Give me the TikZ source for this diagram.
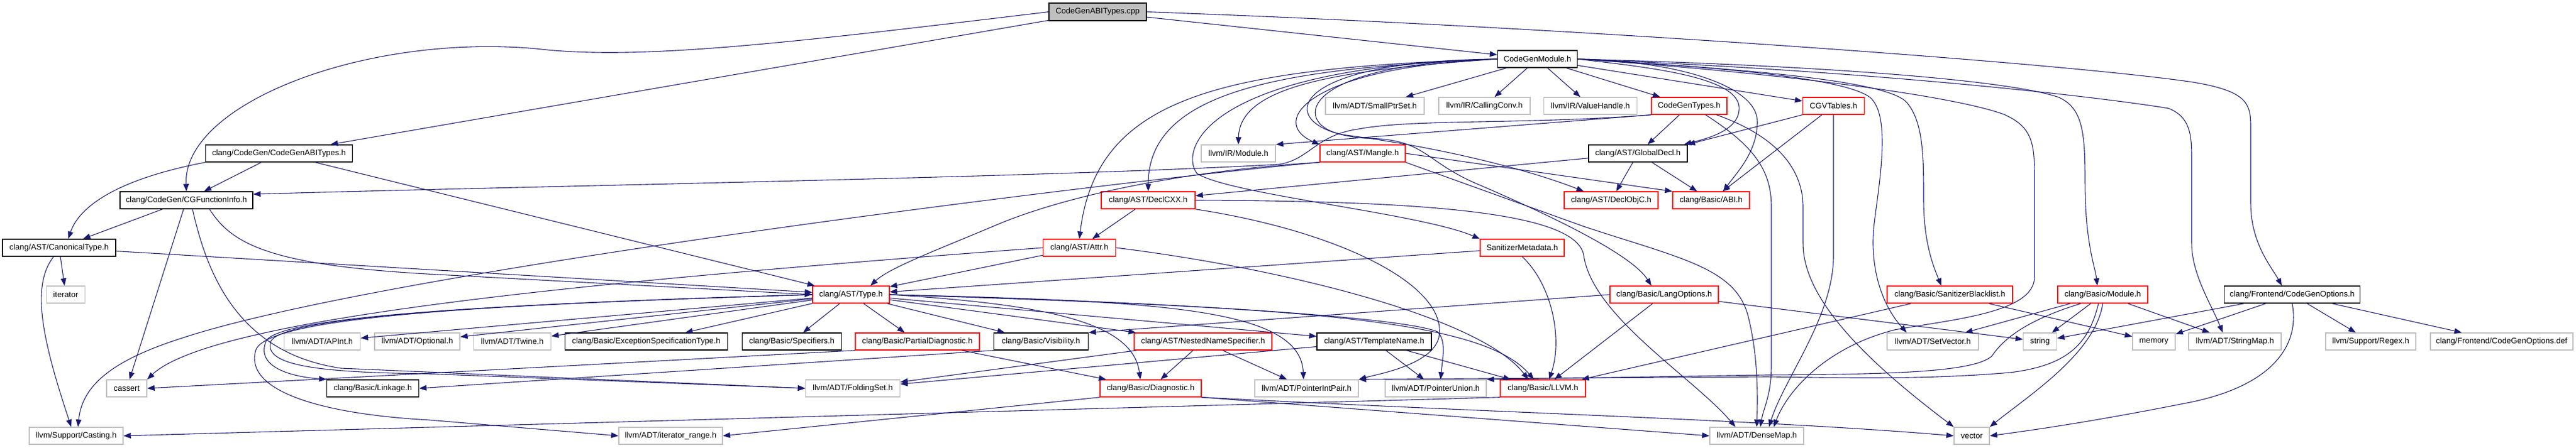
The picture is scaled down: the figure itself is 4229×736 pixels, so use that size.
\documentclass[tikz,border=0pt]{standalone}
\usepackage{fontspec}
\setmainfont{Liberation Sans}
\usetikzlibrary{arrows.meta}
\definecolor{edgeblue}{HTML}{191970}
\definecolor{greybd}{HTML}{BFBFBF}
\begin{document}
\begin{tikzpicture}[x=1pt,y=-1pt,
  box/.style={rectangle,inner sep=0pt,minimum height=28pt,line width=1.4pt,
    font=\fontsize{13.2}{15}\selectfont},
  rootnode/.style={box,draw=black,fill=greybd,minimum height=29pt},
  docnode/.style={box,draw=black},
  trunc/.style={box,draw=red},
  extnode/.style={box,draw=greybd},
  dep/.style={draw=edgeblue,line width=1.1pt,-{Triangle[length=12pt,width=9pt]}},
]
\useasboundingbox (0,0) rectangle (4229,736);
\fill[white] (0,0) rectangle (4229,736);

% ---------------- nodes ----------------
\node[rootnode,minimum width=160pt] (cpp) at (1802,19.5) {CodeGenABITypes.cpp};
\node[docnode,minimum width=131pt] (cgm) at (2524,97) {CodeGenModule.h};
\node[extnode,minimum width=162pt] (smallptr) at (2257,174) {llvm/ADT/SmallPtrSet.h};
\node[extnode,minimum width=150pt] (callconv) at (2437,174) {llvm/IR/CallingConv.h};
\node[extnode,minimum width=153pt] (valuehandle) at (2611,174) {llvm/IR/ValueHandle.h};
\node[trunc,minimum width=124pt] (cgtypes) at (2773,174) {CodeGenTypes.h};
\node[trunc,minimum width=101pt] (cgvtables) at (3010,174) {CGVTables.h};
\node[docnode,minimum width=241pt] (abih) at (458,252) {clang/CodeGen/CodeGenABITypes.h};
\node[extnode,minimum width=122pt] (irmodule) at (2033,252) {llvm/IR/Module.h};
\node[trunc,minimum width=140pt] (mangle) at (2237,252) {clang/AST/Mangle.h};
\node[docnode,minimum width=162pt] (globaldecl) at (2689,252) {clang/AST/GlobalDecl.h};
\node[docnode,minimum width=218pt] (cgfi) at (306,329) {clang/CodeGen/CGFunctionInfo.h};
\node[trunc,minimum width=154pt] (declcxx) at (1885,329) {clang/AST/DeclCXX.h};
\node[trunc,minimum width=154pt] (declobjc) at (2645,329) {clang/AST/DeclObjC.h};
\node[trunc,minimum width=126pt] (abi) at (2809,329) {clang/Basic/ABI.h};
\node[docnode,minimum width=186pt] (canon) at (97,407) {clang/AST/CanonicalType.h};
\node[trunc,minimum width=119pt] (attr) at (1772,407) {clang/AST/Attr.h};
\node[trunc,minimum width=138pt] (sanmeta) at (2499,407) {SanitizerMetadata.h};
\node[extnode,minimum width=63pt] (iterator) at (108,484) {iterator};
\node[trunc,minimum width=126pt] (type) at (1397,484) {clang/AST/Type.h};
\node[trunc,minimum width=178pt] (langopt) at (2732,484) {clang/Basic/LangOptions.h};
\node[trunc,minimum width=206pt] (sanbl) at (3201,484) {clang/Basic/SanitizerBlacklist.h};
\node[trunc,minimum width=148pt] (bmodule) at (3452,484) {clang/Basic/Module.h};
\node[docnode,minimum width=223pt] (cgopt) at (3763,484) {clang/Frontend/CodeGenOptions.h};
\node[extnode,minimum width=125pt] (apint) at (529,561) {llvm/ADT/APInt.h};
\node[extnode,minimum width=140pt] (optional) at (685,561) {llvm/ADT/Optional.h};
\node[extnode,minimum width=127pt] (twine) at (841,561) {llvm/ADT/Twine.h};
\node[docnode,minimum width=267pt] (est) at (1061,561) {clang/Basic/ExceptionSpecificationType.h};
\node[docnode,minimum width=163pt] (specifiers) at (1300,561) {clang/Basic/Specifiers.h};
\node[trunc,minimum width=204pt] (partdiag) at (1506,561) {clang/Basic/PartialDiagnostic.h};
\node[docnode,minimum width=155pt] (visibility) at (1709,561) {clang/Basic/Visibility.h};
\node[trunc,minimum width=226pt] (nns) at (1975,561) {clang/AST/NestedNameSpecifier.h};
\node[docnode,minimum width=188pt] (templname) at (2256,561) {clang/AST/TemplateName.h};
\node[extnode,minimum width=150pt] (setvector) at (3173,561) {llvm/ADT/SetVector.h};
\node[extnode,minimum width=55pt] (string) at (3349,561) {string};
\node[extnode,minimum width=70pt] (memory) at (3536,561) {memory};
\node[extnode,minimum width=152pt] (stringmap) at (3669,561) {llvm/ADT/StringMap.h};
\node[extnode,minimum width=148pt] (regex) at (3892,561) {llvm/Support/Regex.h};
\node[extnode,minimum width=234pt] (cgoptdef) at (4107,561) {clang/Frontend/CodeGenOptions.def};
\node[extnode,minimum width=66pt] (cassert) at (208,638) {cassert};
\node[docnode,minimum width=151pt] (linkage) at (612,638) {clang/Basic/Linkage.h};
\node[extnode,minimum width=155pt] (foldingset) at (1400,638) {llvm/ADT/FoldingSet.h};
\node[trunc,minimum width=166pt] (diag) at (1889,638) {clang/Basic/Diagnostic.h};
\node[extnode,minimum width=170pt] (pip) at (2145,638) {llvm/ADT/PointerIntPair.h};
\node[extnode,minimum width=166pt] (punion) at (2357,638) {llvm/ADT/PointerUnion.h};
\node[trunc,minimum width=140pt] (llvmh) at (2533,638) {clang/Basic/LLVM.h};
\node[extnode,minimum width=154pt] (casting) at (125,716) {llvm/Support/Casting.h};
\node[extnode,minimum width=170pt] (itrange) at (1101,716) {llvm/ADT/iterator\_range.h};
\node[extnode,minimum width=154pt] (densemap) at (2884,716) {llvm/ADT/DenseMap.h};
\node[extnode,minimum width=58pt] (vector) at (3237,716) {vector};

% ---------------- edges ----------------
% CodeGenABITypes.cpp
\draw[dep] (cpp) -- (abih);
\draw[dep] (cpp.west) .. controls (1300,70) and (1050,100) .. (880,80) .. controls (600,55) and (300,170) .. (cgfi.north);
\draw[dep] (cpp) -- (cgm);
\draw[dep] (cpp.east) .. controls (2600,45) and (3400,105) .. (3600,135) .. controls (3690,150) and (3695,170) .. (3695,210) -- (3695,335) .. controls (3695,400) and (3730,440) .. ([xshift=-17pt]cgopt.north);

% CodeGenABITypes.h
\draw[dep] (abih) -- (cgfi);
\draw[dep] (abih.south west) .. controls (190,295) and (130,340) .. ([xshift=15pt]canon.north);
\draw[dep] (abih) -- (type);

% CGFunctionInfo.h
\draw[dep] (cgfi) -- (canon);
\draw[dep] ([xshift=38pt]cgfi.south) .. controls (380,400) and (440,435) .. (700,450) -- (type.west);
\draw[dep] (cgfi) -- (cassert);
\draw[dep] ([xshift=10pt]cgfi.south) .. controls (340,450) and (390,580) .. (560,605) -- (foldingset.west);

% CanonicalType.h
\draw[dep] (canon) -- (type);
\draw[dep] (canon) -- (iterator);
\draw[dep] ([xshift=-9pt]canon.south) .. controls (50,470) and (70,560) .. ([xshift=-8pt]casting.north);

% CodeGenModule.h
\draw[dep] (cgm) -- (cgvtables);
\draw[dep] (cgm) -- (cgtypes);
\draw[dep] (cgm) -- (smallptr);
\draw[dep] (cgm) -- (callconv);
\draw[dep] (cgm) -- (valuehandle);
\draw[dep] (cgm.west) .. controls (2200,115) and (2035,140) .. (irmodule.north);
\draw[dep] (cgm.west) .. controls (2150,110) and (2080,200) .. (mangle.north west);
\draw[dep] (cgm.west) .. controls (2000,112) and (1800,160) .. (attr.north);
\draw[dep] (cgm.west) .. controls (2100,112) and (1885,150) .. (declcxx.north);
\draw[dep] (cgm.west) .. controls (1980,110) and (1935,245) .. (1965,285) .. controls (2020,320) and (2330,350) .. (sanmeta.north west);
\draw[dep] (cgm.west) .. controls (2120,105) and (2120,210) .. (2210,222) .. controls (2350,240) and (2500,275) .. ([xshift=-45pt]declobjc.north);
\draw[dep] (cgm.west) .. controls (2090,100) and (2090,215) .. (2240,227) .. controls (2340,228) and (2335,262) .. (2420,300) .. controls (2560,360) and (2680,420) .. ([xshift=-21pt]langopt.north);
\draw[dep] (cgm.east) .. controls (2700,110) and (2850,125) .. (2855,175) .. controls (2858,215) and (2800,228) .. ([xshift=-6pt]globaldecl.north east);
\draw[dep] (cgm.east) .. controls (2750,100) and (2885,140) .. (2885,200) .. controls (2885,250) and (2850,285) .. ([xshift=20pt]abi.north);
\draw[dep] (cgm.east) .. controls (3000,108) and (3300,132) .. (3380,160) .. controls (3420,178) and (3423,220) .. (3423,300) .. controls (3423,400) and (3440,440) .. ([xshift=-9pt]bmodule.north);
\draw[dep] (cgm.east) .. controls (2900,118) and (3200,155) .. (3290,188) .. controls (3340,210) and (3340,240) .. (3340,300) -- (3340,455) .. controls (3340,515) and (3200,525) .. (3110,542) .. controls (3000,570) and (2935,640) .. ([xshift=28pt]densemap.north);
\draw[dep] (cgm.east) .. controls (2850,112) and (3030,130) .. (3070,160) .. controls (3105,190) and (3085,300) .. (3077,366) .. controls (3070,420) and (3080,490) .. ([xshift=-43pt]setvector.north);
\draw[dep] (cgm.east) .. controls (2900,115) and (3100,135) .. (3130,168) .. controls (3158,200) and (3158,260) .. (3158,330) .. controls (3158,400) and (3175,440) .. ([xshift=-14pt]sanbl.north);
\draw[dep] (cgm.east) .. controls (3100,118) and (3450,160) .. (3560,178) .. controls (3595,192) and (3598,220) .. (3598,260) -- (3598,400) .. controls (3598,450) and (3630,500) .. ([xshift=-20pt]stringmap.north);

% CodeGenTypes.h
\draw[dep] (cgtypes) -- (globaldecl);
\draw[dep] (cgtypes.south west) -- (irmodule.north east);
\draw[dep] (cgtypes.south west) .. controls (2500,205) and (2320,195) .. (2230,212) .. controls (2160,222) and (2150,262) .. (2100,270) .. controls (1700,292) and (900,305) .. ([yshift=10pt]cgfi.east);
\draw[dep] ([xshift=27pt]cgtypes.south) .. controls (2880,240) and (2908,280) .. (2908,340) -- (2908,600) .. controls (2908,650) and (2895,670) .. ([xshift=6pt]densemap.north);
\draw[dep] ([xshift=45pt]cgtypes.south) .. controls (2920,225) and (2960,280) .. (2960,340) -- (2960,400) .. controls (2960,490) and (3060,590) .. (vector.north west);

% CGVTables.h
\draw[dep] (cgvtables.south west) -- (globaldecl.north east);
\draw[dep] (cgvtables) -- (abi);
\draw[dep] (cgvtables.south) -- (3010,420) .. controls (3010,520) and (2930,620) .. ([xshift=20pt]densemap.north);

% GlobalDecl.h
\draw[dep] (globaldecl) -- (declcxx);
\draw[dep] (globaldecl) -- (declobjc);
\draw[dep] (globaldecl) -- (abi);

% Mangle.h
\draw[dep] (mangle.south west) .. controls (1900,290) and (650,440) .. (300,555) .. controls (190,590) and (135,630) .. ([xshift=3pt]casting.north);
\draw[dep] (mangle.south west) .. controls (1950,280) and (1750,320) .. (1630,372) .. controls (1540,410) and (1460,440) .. ([xshift=32pt]type.north);
\draw[dep] (mangle.east) -- (abi.north west);
\draw[dep] (mangle.south east) -- (2600,372) .. controls (2760,425) and (2850,440) .. (2870,520) .. controls (2885,580) and (2886,640) .. (densemap.north);

% DeclCXX.h
\draw[dep] (declcxx) -- (attr);
\draw[dep] (declcxx.south east) .. controls (2200,380) and (2380,470) .. (2362,555) .. controls (2350,600) and (2260,615) .. (pip.north east);
\draw[dep] (declcxx.east) .. controls (2350,330) and (2590,350) .. (2600,420) .. controls (2615,520) and (2780,620) .. ([xshift=-35pt]densemap.north);

% Attr.h
\draw[dep] (attr) -- (type);
\draw[dep] (attr.west) .. controls (1000,460) and (350,520) .. (cassert.north east);
\draw[dep] (attr.east) .. controls (2100,440) and (2430,520) .. ([xshift=-24pt]llvmh.north);

% SanitizerMetadata.h
\draw[dep] (sanmeta) -- (type);
\draw[dep] (sanmeta.south) .. controls (2550,470) and (2565,560) .. ([xshift=10pt]llvmh.north);

% Type.h
\draw[dep] (type) -- (apint);
\draw[dep] (type) -- (optional);
\draw[dep] (type) -- (twine);
\draw[dep] (type) -- (est);
\draw[dep] (type) -- (specifiers);
\draw[dep] (type) -- (partdiag);
\draw[dep] (type) -- (visibility);
\draw[dep] (type) -- (nns);
\draw[dep] (type) -- (templname);
\draw[dep] (type.east) .. controls (1720,500) and (1860,530) .. ([xshift=-17pt]diag.north);
\draw[dep] (type.east) .. controls (1900,495) and (2135,505) .. ([xshift=-5pt]pip.north);
\draw[dep] (type.east) .. controls (1900,495) and (2300,520) .. (2360,545) .. controls (2375,560) and (2368,590) .. ([xshift=8pt]punion.north);
\draw[dep] (type.east) .. controls (2100,505) and (2430,520) .. ([xshift=-15pt]llvmh.north);
\draw[dep] (type.west) .. controls (800,500) and (460,520) .. (437,560) .. controls (420,600) and (470,618) .. (linkage.north west);
\draw[dep] (type.west) .. controls (800,500) and (470,520) .. (445,560) .. controls (430,600) and (520,612) .. (700,614) -- (foldingset.west);
\draw[dep] (type.west) .. controls (800,500) and (440,520) .. (420,575) .. controls (400,640) and (520,680) .. (705,690) -- (itrange.west);

% LangOptions.h
\draw[dep] (langopt.west) -- (visibility.north east);
\draw[dep] (langopt) -- (llvmh);
\draw[dep] (langopt) -- (string);

% SanitizerBlacklist.h
\draw[dep] (sanbl) -- (llvmh);
\draw[dep] (sanbl) -- (memory);

% clang/Basic/Module.h
\draw[dep] (bmodule) -- (setvector);
\draw[dep] (bmodule) -- (string);
\draw[dep] (bmodule.south) .. controls (3440,580) and (3330,650) .. (vector.north east);
\draw[dep] (bmodule) -- (stringmap);
\draw[dep] ([xshift=-36pt]bmodule.south) .. controls (3330,525) and (3290,555) .. (3270,585) .. controls (3240,612) and (3100,615) .. (2900,616) -- (punion.north east);
\draw[dep] ([xshift=-7pt]bmodule.south) .. controls (3430,560) and (3400,600) .. (3300,612) .. controls (3150,625) and (3000,620) .. (2900,619) -- (pip.north east);

% CodeGenOptions.h
\draw[dep] (cgopt) -- (memory);
\draw[dep] (cgopt) -- (string);
\draw[dep] (cgopt) -- (regex);
\draw[dep] (cgopt) -- (cgoptdef);
\draw[dep] (cgopt.south) .. controls (3775,560) and (3740,630) .. (3600,660) .. controls (3450,690) and (3350,705) .. (vector.east);

% NestedNameSpecifier.h
\draw[dep] (nns) -- (diag);
\draw[dep] (nns) -- (foldingset);
\draw[dep] (nns) -- (pip);

% TemplateName.h
\draw[dep] (templname) -- (foldingset);
\draw[dep] (templname) -- (punion);
\draw[dep] (templname) -- (llvmh);

% PartialDiagnostic.h
\draw[dep] (partdiag.south west) -- (cassert.east);
\draw[dep] (partdiag) -- (diag);

% Visibility.h
\draw[dep] (visibility.south west) -- (linkage.east);

% Diagnostic.h
\draw[dep] (diag.south west) -- (itrange.east);
\draw[dep] (diag.south east) -- (densemap.west);
\draw[dep] (diag.south east) .. controls (2500,680) and (2900,690) .. (vector.west);

% LLVM.h
\draw[dep] (llvmh.south west) -- (casting.east);
\end{tikzpicture}
\end{document}
